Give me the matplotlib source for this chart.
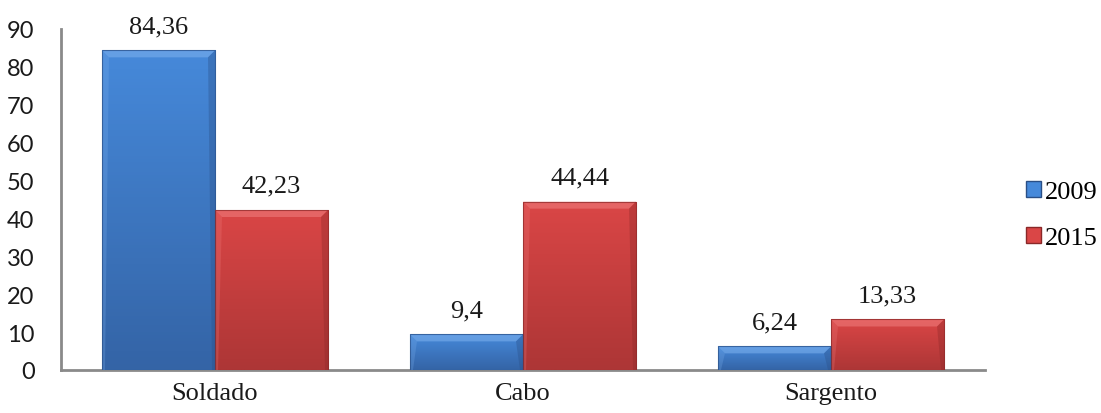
import numpy as np
import matplotlib
matplotlib.use('Agg')
from matplotlib import pyplot as plt
from matplotlib.patches import Patch, Polygon

categories = ['Soldado', 'Cabo', 'Sargento']
years = ['2009', '2015']
vals_2009 = [84.36, 9.4, 6.24]
vals_2015 = [42.23, 44.44, 13.33]
labels_2009 = ['84,36', '9,4', '6,24']
labels_2015 = ['42,23', '44,44', '13,33']

# (top, bottom, light bevel, dark edge)
colors = {'2009': ('#4689da', '#3464a6', '#7fb2ee', '#2a4f86'),
	'2015': ('#da4646', '#ad3636', '#f08080', '#8a2828')}

W, H = 1101, 414
fig = plt.figure(figsize=(W/100, H/100), dpi=100)
ax = fig.add_axes([61/W, 43/H, 924/W, 341/H])

x = np.arange(len(categories))
w = 0.367
px = 3/924.   # data units per pixel, x
py = 90/341.  # data units per pixel, y

def shaded_bars(xpos, vals, top, bottom, light, dark):
	bars = ax.bar(xpos, vals, w, color=bottom, edgecolor='none', zorder=2)
	grad = np.linspace(0, 1, 100).reshape(-1, 1)
	cmap = matplotlib.colors.LinearSegmentedColormap.from_list('g', [bottom, top])
	for b in bars:
		x0, y0 = b.get_x(), b.get_y()
		x1, y1 = x0 + b.get_width(), y0 + b.get_height()
		im = ax.imshow(grad, extent=(x0, x1, y0, y1), origin='lower', aspect='auto', cmap=cmap, zorder=3)
		im.set_clip_path(b)
		bx, by = 7*px, 7*py
		by = min(by, b.get_height()/2)
		# bevel: top lighter, sides darker
		ax.add_patch(Polygon([(x0, y1), (x1, y1), (x1 - bx, y1 - by), (x0 + bx, y1 - by)],
			closed=True, facecolor=light, alpha=0.55, edgecolor='none', zorder=4))
		ax.add_patch(Polygon([(x1, y1), (x1, y0), (x1 - 3*px, y0), (x1 - bx, y1 - by)],
			closed=True, facecolor=dark, alpha=0.35, edgecolor='none', zorder=4))
		ax.add_patch(Polygon([(x0, y1), (x0, y0), (x0 + 3*px, y0), (x0 + bx, y1 - by)],
			closed=True, facecolor=light, alpha=0.25, edgecolor='none', zorder=4))
		ax.add_patch(plt.Rectangle((x0, y0), b.get_width(), b.get_height(),
			fill=False, edgecolor=dark, lw=0.8, alpha=0.7, zorder=5))
	return bars

shaded_bars(x - w/2, vals_2009, *colors['2009'])
shaded_bars(x + w/2, vals_2015, *colors['2015'])

for i in range(len(categories)):
	for xp, v, lab in [(x[i] - w/2, vals_2009[i], labels_2009[i]), (x[i] + w/2, vals_2015[i], labels_2015[i])]:
		ax.annotate(lab, (xp, v), xytext=(0, 13), textcoords='offset points', ha='center', va='baseline',
			fontsize=19, family='Liberation Serif', color='#1a1a1a')

ax.set_xlim(-0.5, 2.5)
ax.set_ylim(0, 90)
ax.set_yticks(range(0, 91, 10))
ax.set_xticks(x)
ax.set_xticklabels(categories, family='Liberation Serif', fontsize=19)
for t in ax.get_yticklabels():
	t.set_family('Lato')
	t.set_fontsize(17)
ax.tick_params(axis='both', length=0, colors='#1a1a1a')
ax.tick_params(axis='y', pad=19)
ax.tick_params(axis='x', pad=9)
for s in ['top', 'right']:
	ax.spines[s].set_visible(False)
for s in ['left', 'bottom']:
	ax.spines[s].set_color('#8a8a8a')
	ax.spines[s].set_linewidth(2)

handles = [Patch(facecolor=colors[y][0], edgecolor=colors[y][3], label=y) for y in years]
fig.legend(handles=handles, loc='center left', bbox_to_anchor=(1026/W, 1 - 216/H),
	frameon=False, borderpad=0, borderaxespad=0, handlelength=0.55, handleheight=0.55,
	handletextpad=0.15, labelspacing=0.9, prop={'family': 'Liberation Serif', 'size': 19})

fig.savefig('out.png', dpi=100)
